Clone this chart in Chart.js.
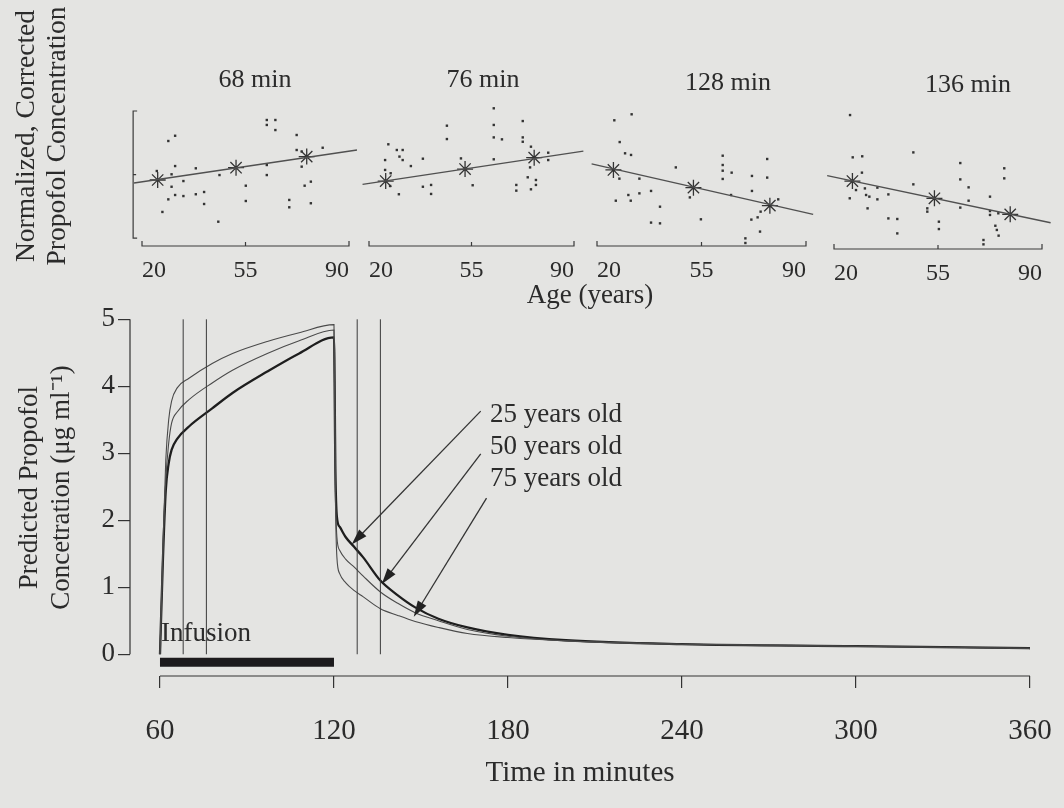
<!DOCTYPE html>
<html>
<head>
<meta charset="utf-8">
<script src="https://cdn.jsdelivr.net/npm/chart.js@4.4.0/dist/chart.umd.min.js"></script>
<style>
  body { margin: 0; background: #e4e4e2; }
  #wrap { position: relative; width: 1064px; height: 808px; overflow: hidden; background: #e4e4e2; }
  #wrap canvas { position: absolute; left: 0; }
</style>
</head>
<body>
<div id="wrap">
  <canvas id="p68" width="1064" height="320" style="top:0px"></canvas>
  <canvas id="p76" width="1064" height="320" style="top:0px"></canvas>
  <canvas id="p128" width="1064" height="320" style="top:0px"></canvas>
  <canvas id="p136" width="1064" height="320" style="top:3px"></canvas>
  <canvas id="main" width="1064" height="528" style="top:280px"></canvas>
</div>
<script>
// ---- top row: normalized concentration vs age ----
const panelTitles = ['68 min', '76 min', '128 min', '136 min'];
const ageTicks = [20, 55, 90];

const age68 = [25.0, 26.9, 28.9, 31.2, 30.0, 31.2, 30.0, 28.9, 31.2, 34.0, 34.0, 38.2, 38.2, 41.0, 41.0, 45.8, 46.2, 55.1, 55.1, 62.2,
  62.2, 65.1, 65.1, 62.2, 62.2, 69.8, 69.8, 72.3, 72.3, 74.0, 74.0, 75.0, 77.1, 77.1, 81.1];
const val68 = [5.0, 2.27, 7.0, 7.35, 4.78, 5.33, 3.95, 3.11, 3.4, 3.33, 4.33, 5.18, 3.45, 3.6, 2.8, 1.62, 4.73, 4.02, 3.0, 8.4,
  8.07, 8.4, 7.73, 5.4, 4.73, 3.07, 2.58, 7.4, 6.4, 6.3, 5.29, 4.02, 4.29, 2.85, 6.55];
const meanAge68 = [25.3, 51.8, 75.7];
const meanVal68 = [4.4, 5.22, 5.96];
const fitAge68 = [17.3, 92.7];
const fitVal68 = [4.2, 6.4];

const age76 = [32.1, 26.6, 25.5, 25.5, 27.4, 27.2, 29.5, 31.5, 30.4, 31.5, 34.3, 30.2, 38.4, 38.4, 41.2, 41.2, 46.6, 46.6, 51.4, 55.4,
  62.6, 62.6, 62.6, 65.4, 62.6, 72.5, 72.5, 72.5, 70.3, 70.3, 75.3, 75.0, 74.2, 75.3, 77.0, 77.0, 81.2, 81.2];
const val76 = [11.3, 6.78, 5.73, 5.07, 4.85, 4.0, 6.4, 6.4, 5.96, 5.73, 5.33, 3.45, 5.82, 3.95, 4.07, 3.47, 8.02, 7.13, 5.84, 4.05,
  9.18, 8.07, 7.24, 7.11, 5.78, 8.33, 7.24, 6.95, 4.07, 3.69, 6.62, 5.24, 4.58, 3.78, 4.4, 4.07, 6.22, 5.73];
const meanAge76 = [25.7, 52.8, 76.4];
const meanVal76 = [4.33, 5.13, 5.89];
const fitAge76 = [17.8, 93.2];
const fitVal76 = [4.11, 6.33];

const age128 = [25.8, 31.6, 27.6, 29.4, 31.4, 27.5, 34.2, 34.2, 30.5, 26.3, 31.3, 38.1, 41.1, 38.1, 41.1, 46.4, 51.1, 54.8, 62.1, 62.1,
  62.1, 62.1, 65.1, 64.9, 71.9, 71.9, 77.0, 77.0, 71.7, 73.8, 74.8, 74.6, 69.7, 69.7, 80.7];
const val128 = [8.38, 8.78, 6.93, 6.18, 6.07, 4.49, 4.49, 3.51, 3.4, 3.02, 3.02, 3.67, 2.62, 1.56, 1.51, 5.24, 3.24, 1.78, 6.02, 5.4,
  5.02, 4.47, 4.89, 3.4, 4.67, 3.67, 5.8, 4.56, 1.76, 1.91, 2.29, 0.96, 0.51, 0.2, 3.11];
const meanAge128 = [25.5, 52.3, 77.9];
const meanVal128 = [5.07, 3.89, 2.69];
const fitAge128 = [18.2, 92.4];
const fitVal128 = [5.47, 2.11];

const age136 = [25.4, 26.3, 29.5, 29.4, 25.3, 27.4, 30.4, 30.8, 31.9, 31.3, 34.6, 34.6, 38.3, 38.3, 41.3, 41.3, 46.7, 46.7, 51.4, 51.4,
  55.3, 55.3, 62.5, 62.5, 62.5, 65.3, 65.3, 72.5, 72.5, 72.5, 75.3, 74.3, 74.8, 75.4, 70.3, 70.3, 77.3, 77.3];
const val136 = [8.93, 6.11, 6.18, 5.09, 3.38, 3.93, 4.04, 3.6, 3.49, 2.71, 4.09, 3.31, 3.64, 2.04, 2.0, 1.04, 6.44, 4.31, 2.71, 2.49,
  1.82, 1.33, 5.73, 4.64, 2.76, 4.11, 3.22, 3.49, 2.53, 2.27, 2.38, 1.55, 1.27, 0.89, 0.6, 0.31, 5.38, 4.71];
const meanAge136 = [26.2, 53.8, 79.3];
const meanVal136 = [4.53, 3.38, 2.31];
const fitAge136 = [17.7, 92.9];
const fitVal136 = [4.89, 1.75];

// ---- bottom: predicted concentration (ug/ml) over time ----
const timeMin = [60, 61, 62, 63, 64, 66, 70, 78, 85, 97, 108, 120, 120.5, 121, 122, 124, 127, 130, 136, 142, 148, 156, 166, 180, 200, 240, 300, 360];
const conc25 = [0, 1.4, 2.45, 2.85, 3.05, 3.22, 3.4, 3.67, 3.9, 4.22, 4.49, 4.73, 2.7, 2.05, 1.9, 1.75, 1.6, 1.45, 1.1, 0.88, 0.7, 0.53, 0.4, 0.29, 0.21, 0.15, 0.12, 0.09];
const conc50 = [0, 1.5, 2.6, 3.15, 3.45, 3.62, 3.8, 4.05, 4.24, 4.49, 4.68, 4.84, 2.5, 1.75, 1.55, 1.42, 1.3, 1.17, 0.93, 0.76, 0.62, 0.5, 0.37, 0.27, 0.2, 0.15, 0.12, 0.09];
const conc75 = [0, 1.6, 2.9, 3.5, 3.78, 3.98, 4.12, 4.34, 4.49, 4.67, 4.8, 4.92, 2.3, 1.45, 1.2, 1.07, 0.95, 0.86, 0.68, 0.58, 0.49, 0.4, 0.31, 0.25, 0.2, 0.15, 0.12, 0.09];
const sampleTimes = [68, 76, 128, 136];
const infusion = [60, 120];
const timeTicks = [60, 120, 180, 240, 300, 360];
const concTicks = [0, 1, 2, 3, 4, 5];
const ageLabels = ['25 years old', '50 years old', '75 years old'];

const FONT = "'Liberation Serif', 'Times New Roman', serif";
const INK = '#2b2b2b';
Chart.defaults.font.family = FONT;
Chart.defaults.color = INK;

const pts = (xs, ys) => xs.map((v, i) => ({x: v, y: ys[i]}));

const panelGeo = [
  {left: 142, width: 207, titleX: 255, titleY: 80, yBracket: [0.53, 9.0]},
  {left: 369, width: 205, titleX: 483, titleY: 80},
  {left: 597, width: 209, titleX: 728, titleY: 83},
  {left: 834, width: 208, titleX: 968, titleY: 82}
];

const panelDeco = {
  id: 'panelDeco',
  afterDraw(chart, args, o) {
    const {ctx, chartArea: a, scales: {x, y}} = chart;
    ctx.save();
    ctx.strokeStyle = '#3a3a3a';
    ctx.lineWidth = 1.2;
    const xa = x.getPixelForValue(ageTicks[0]);
    const xm = x.getPixelForValue(ageTicks[1]);
    const xb = x.getPixelForValue(ageTicks[2]);
    const yb = a.bottom;
    ctx.beginPath();
    ctx.moveTo(xa, yb - 5); ctx.lineTo(xa, yb); ctx.lineTo(xb, yb); ctx.lineTo(xb, yb - 5);
    ctx.moveTo(xm, yb); ctx.lineTo(xm, yb - 4);
    ctx.stroke();
    if (o.yBracket) {
      const y0 = y.getPixelForValue(o.yBracket[0]);
      const y1 = y.getPixelForValue(o.yBracket[1]);
      const ym = (y0 + y1) / 2;
      ctx.beginPath();
      ctx.moveTo(a.left + 4, y1); ctx.lineTo(a.left, y1); ctx.lineTo(a.left, y0); ctx.lineTo(a.left + 4, y0);
      ctx.moveTo(a.left, ym); ctx.lineTo(a.left + 3, ym);
      ctx.stroke();
    }
    ctx.fillStyle = INK;
    ctx.font = '26px ' + FONT;
    ctx.textAlign = 'center';
    ctx.textBaseline = 'middle';
    ctx.fillText(o.title, o.titleX, o.titleY);
    if (o.yBracket) {
      ctx.font = '27px ' + FONT;
      ctx.fillText('Age (years)', 590, 296);
      ctx.save();
      ctx.font = '27.5px ' + FONT;
      ctx.translate(27, 136);
      ctx.rotate(-Math.PI / 2);
      ctx.fillText('Normalized, Corrected', 0, 0);
      ctx.fillText('Propofol Concentration', 0, 31);
      ctx.restore();
    }
    ctx.restore();
  }
};

function makePanel(id, idx, ages, vals, mAge, mVal, fAge, fVal) {
  const g = panelGeo[idx];
  const k = g.width / 70;
  const xMin = 17, xMax = 94;
  const cl = g.left - (20 - xMin) * k;
  const cr = g.left + (xMax - 20) * k;
  new Chart(document.getElementById(id), {
    type: 'scatter',
    data: {
      datasets: [
        {type: 'line', data: pts(fAge, fVal), borderColor: '#505050', borderWidth: 1.3, pointRadius: 0, clip: false},
        {data: pts(ages, vals), pointStyle: 'rect', pointRadius: 1.7, backgroundColor: '#333', borderWidth: 0, clip: false},
        {data: pts(mAge, mVal), pointStyle: 'star', pointRadius: 8, borderColor: '#333', borderWidth: 1.3, clip: false}
      ]
    },
    options: {
      responsive: false,
      animation: false,
      events: [],
      layout: {padding: {left: cl, right: 1064 - cr, top: 96, bottom: 0}},
      plugins: {
        legend: {display: false},
        tooltip: {enabled: false},
        panelDeco: {title: panelTitles[idx], titleX: g.titleX, titleY: g.titleY, yBracket: g.yBracket}
      },
      scales: {
        x: {
          type: 'linear', min: xMin, max: xMax,
          grid: {display: false}, border: {display: false},
          afterBuildTicks: s => { s.ticks = ageTicks.map(v => ({value: v})); },
          afterFit: s => { s.height = 74; },
          ticks: {font: {size: 24}, color: INK, padding: 2, align: 'inner', maxRotation: 0, autoSkip: false}
        },
        y: {display: false, min: 0, max: 10}
      }
    },
    plugins: [panelDeco]
  });
}

makePanel('p68', 0, age68, val68, meanAge68, meanVal68, fitAge68, fitVal68);
makePanel('p76', 1, age76, val76, meanAge76, meanVal76, fitAge76, fitVal76);
makePanel('p128', 2, age128, val128, meanAge128, meanVal128, fitAge128, fitVal128);
makePanel('p136', 3, age136, val136, meanAge136, meanVal136, fitAge136, fitVal136);

// arrows from the age labels to the curves
const arrowFromT = [170.6, 170.6, 172.6];
const arrowFromC = [3.63, 2.99, 2.33];
const arrowToT = [126.1, 136.5, 147.5];
const arrowToC = [1.64, 1.05, 0.56];
const labelT = 173.8;
const labelC = [3.58, 3.1, 2.62];

function arrow(ctx, x0, y0, x1, y1) {
  const ang = Math.atan2(y1 - y0, x1 - x0);
  const c = Math.cos(ang), s = Math.sin(ang);
  ctx.beginPath();
  ctx.moveTo(x0, y0);
  ctx.lineTo(x1 - 10 * c, y1 - 10 * s);
  ctx.stroke();
  ctx.beginPath();
  ctx.moveTo(x1, y1);
  ctx.lineTo(x1 - 16 * c + 5 * s, y1 - 16 * s - 5 * c);
  ctx.lineTo(x1 - 16 * c - 5 * s, y1 - 16 * s + 5 * c);
  ctx.closePath();
  ctx.fill();
}

const mainDeco = {
  id: 'mainDeco',
  afterDatasetsDraw(chart) {
    const {ctx, chartArea: a, scales: {x, y}} = chart;
    ctx.save();
    ctx.strokeStyle = '#333';
    ctx.fillStyle = '#222';
    ctx.lineWidth = 1.2;
    ctx.beginPath();
    ctx.moveTo(x.getPixelForValue(timeTicks[0]), a.bottom);
    ctx.lineTo(x.getPixelForValue(timeTicks[timeTicks.length - 1]), a.bottom);
    ctx.moveTo(a.left, y.getPixelForValue(concTicks[0]));
    ctx.lineTo(a.left, y.getPixelForValue(concTicks[concTicks.length - 1]));
    ctx.stroke();

    ctx.lineWidth = 1.3;
    for (let i = 0; i < arrowFromT.length; i++) {
      arrow(ctx, x.getPixelForValue(arrowFromT[i]), y.getPixelForValue(arrowFromC[i]),
        x.getPixelForValue(arrowToT[i]), y.getPixelForValue(arrowToC[i]));
    }

    ctx.fillStyle = INK;
    ctx.font = '27px ' + FONT;
    ctx.textAlign = 'left';
    ctx.textBaseline = 'middle';
    ageLabels.forEach((t, i) => ctx.fillText(t, x.getPixelForValue(labelT), y.getPixelForValue(labelC[i])));
    ctx.textBaseline = 'alphabetic';
    ctx.fillText('Infusion', x.getPixelForValue(infusion[0]) + 1, y.getPixelForValue(0.2));
    ctx.restore();
  }
};

const markerSets = sampleTimes.map(t => ({
  data: [{x: t, y: concTicks[0]}, {x: t, y: concTicks[concTicks.length - 1]}],
  borderColor: '#3a3a3a', borderWidth: 1, pointRadius: 0
}));

new Chart(document.getElementById('main'), {
  type: 'line',
  data: {
    datasets: [
      ...markerSets,
      {data: pts(timeMin, conc75), borderColor: '#4a4a4a', borderWidth: 1.1, pointRadius: 0, cubicInterpolationMode: 'monotone'},
      {data: pts(timeMin, conc50), borderColor: '#4a4a4a', borderWidth: 1.1, pointRadius: 0, cubicInterpolationMode: 'monotone'},
      {data: pts(timeMin, conc25), borderColor: '#1e1e1e', borderWidth: 2.3, pointRadius: 0, cubicInterpolationMode: 'monotone'},
      {data: [{x: infusion[0], y: -0.12}, {x: infusion[1], y: -0.12}], borderColor: '#1d1b1d', borderWidth: 9,
        borderCapStyle: 'butt', pointRadius: 0, clip: false}
    ]
  },
  options: {
    responsive: false,
    animation: false,
    events: [],
    layout: {padding: {left: 0, right: 34, top: 14.7, bottom: 0}},
    plugins: {legend: {display: false}, tooltip: {enabled: false}},
    scales: {
      x: {
        type: 'linear', min: 49.66, max: 360,
        afterBuildTicks: s => { s.ticks = timeTicks.map(v => ({value: v})); },
        afterFit: s => { s.height = 132; },
        grid: {drawOnChartArea: false, drawTicks: true, tickLength: 12, color: '#333', lineWidth: 1.2},
        border: {display: false},
        // tall line box keeps the labels low while the side padding stays small
        ticks: {font: {size: 29, lineHeight: 2.4}, color: INK, padding: 9, maxRotation: 0, autoSkip: false},
        title: {display: true, text: 'Time in minutes', font: {size: 29}, color: INK, padding: {top: 0, bottom: 17.6}}
      },
      y: {
        min: -0.3245, max: 5.3,
        afterBuildTicks: s => { s.ticks = concTicks.map(v => ({value: v})); },
        afterFit: s => { s.width = 130; },
        grid: {drawOnChartArea: false, drawTicks: true, tickLength: 12, color: '#333', lineWidth: 1.2},
        border: {display: false},
        ticks: {font: {size: 27}, color: INK, padding: 3},
        title: {display: true, text: ['Predicted Propofol', 'Concetration (μg ml⁻¹)'], font: {size: 27}, color: INK,
          padding: {top: 13.8, bottom: 0}}
      }
    }
  },
  plugins: [mainDeco]
});
</script>
</body>
</html>
